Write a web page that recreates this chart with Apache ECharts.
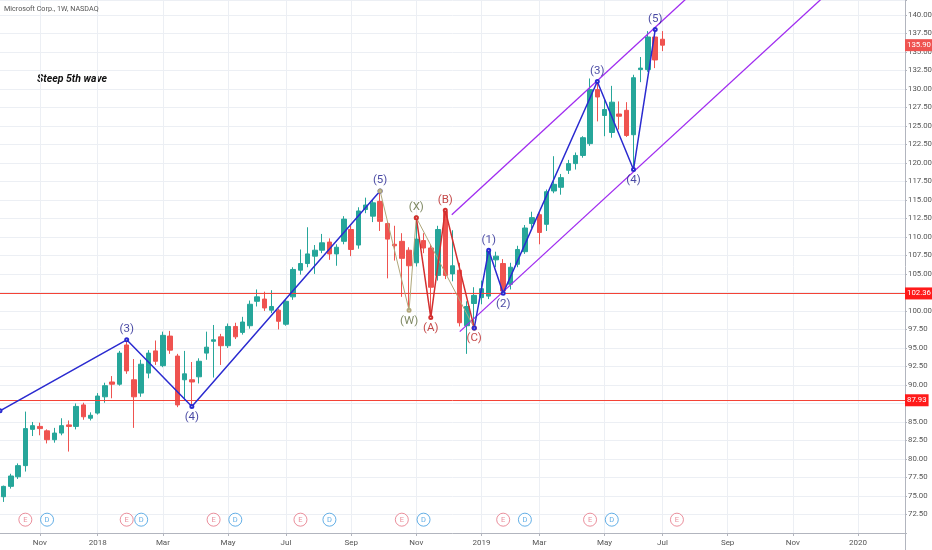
<!DOCTYPE html>
<html>
<head>
<meta charset="utf-8">
<script src="https://cdn.jsdelivr.net/npm/echarts@6/dist/echarts.min.js"></script>
<style>
  html, body { margin: 0; padding: 0; background: #fff; }
  #chart { width: 932px; height: 550px; }
</style>
</head>
<body>
<div id="chart"></div>
<script>
// MSFT weekly candles (week of 2017-10-02 onward)
var weekOpen = [74.9, 76.3, 77.6, 79.1, 84.0, 84.4, 83.8, 82.6, 83.5, 84.6,
    84.4, 87.3, 85.5, 86.2, 88.4, 90.4, 90.1, 95.4, 90.7, 88.9,
    91.6, 94.6, 92.6, 96.6, 93.9, 90.7, 90.7, 91.1, 94.3, 95.9,
    96.5, 95.3, 97.9, 97.1, 98.0, 101.3, 101.6, 100.1, 100.1, 98.2,
    101.9, 105.5, 106.4, 107.4, 108.2, 109.3, 107.7, 109.4, 111.0, 108.9,
    113.7, 112.8, 114.8, 111.8, 109.0, 109.4, 108.2, 106.5, 109.5, 108.5,
    104.8, 113.4, 105.0, 105.5, 98.0, 101.0, 101.8, 102.0, 106.9, 106.4,
    103.6, 106.3, 108.0, 111.8, 113.0, 111.7, 116.2, 116.7, 119.0, 119.9,
    121.0, 122.6, 129.9, 126.4, 124.1, 126.6, 127.1, 123.8, 132.6, 132.6,
    137.0, 136.7];
var weekClose = [76.3, 77.7, 79.1, 84.1, 84.5, 84.1, 82.6, 83.5, 84.5, 84.4,
    87.1, 85.7, 85.9, 88.5, 89.9, 90.1, 94.3, 91.9, 88.4, 92.8,
    94.3, 93.2, 96.7, 94.7, 87.3, 91.5, 90.4, 93.2, 95.1, 96.1,
    95.3, 97.9, 96.5, 98.5, 100.9, 101.9, 100.4, 100.6, 98.6, 101.3,
    105.6, 106.4, 107.7, 108.2, 109.2, 107.7, 108.6, 112.4, 108.3, 113.5,
    114.3, 114.6, 112.1, 109.7, 108.8, 107.1, 106.1, 109.7, 108.5, 103.2,
    111.0, 104.8, 106.1, 98.4, 100.6, 102.1, 103.0, 108.1, 107.4, 102.7,
    105.9, 108.3, 111.2, 112.6, 110.6, 116.1, 117.1, 118.0, 119.9, 121.0,
    123.4, 129.9, 128.9, 127.2, 128.2, 126.3, 123.7, 131.5, 132.8, 137.0,
    133.9, 135.9];
var weekLow = [74.2, 76.0, 77.3, 78.3, 83.1, 83.2, 82.1, 82.2, 83.2, 81.0,
    84.0, 85.3, 85.2, 86.0, 87.6, 88.2, 89.9, 91.5, 84.2, 88.4,
    90.9, 92.7, 92.4, 94.2, 87.0, 88.0, 87.1, 90.2, 93.4, 91.0,
    92.7, 95.0, 96.2, 96.8, 97.6, 100.6, 100.0, 99.7, 97.5, 98.0,
    101.5, 104.9, 105.9, 105.0, 107.8, 106.9, 106.1, 109.0, 107.4, 108.4,
    113.2, 112.0, 110.8, 104.4, 106.8, 101.9, 100.2, 106.0, 107.8, 99.1,
    104.1, 104.3, 104.0, 97.9, 94.2, 97.7, 100.9, 101.6, 105.9, 102.4,
    102.9, 105.9, 107.7, 111.2, 109.0, 110.8, 115.9, 115.7, 118.5, 119.1,
    120.7, 122.3, 125.6, 123.6, 123.4, 124.5, 123.5, 119.1, 130.9, 132.3,
    132.8, 135.1];
var weekHigh = [76.4, 78.0, 79.4, 86.4, 85.0, 84.9, 84.0, 84.2, 85.5, 85.2,
    87.5, 87.6, 86.3, 88.9, 90.3, 91.2, 94.6, 96.1, 93.5, 93.4,
    94.7, 96.0, 97.2, 97.3, 94.2, 94.6, 93.1, 93.6, 97.2, 98.1,
    96.9, 98.3, 98.4, 99.2, 101.4, 102.9, 102.6, 102.8, 100.3, 101.6,
    105.9, 108.3, 111.3, 108.9, 110.4, 109.8, 109.0, 112.8, 111.5, 114.0,
    115.3, 115.0, 116.2, 112.0, 111.5, 110.5, 108.6, 112.6, 110.5, 109.0,
    111.5, 113.6, 110.9, 106.5, 101.3, 103.2, 104.1, 108.2, 108.0, 107.0,
    106.5, 108.8, 111.6, 113.4, 113.3, 116.4, 120.9, 118.5, 120.4, 121.4,
    123.6, 131.4, 131.0, 128.6, 130.4, 128.3, 128.2, 131.9, 134.3, 137.8,
    138.0, 137.8];

// Elliott wave drawings: [week index, price]
var waveBlue1 = [[-0.5, 86.5], [17, 96.1], [26, 87.1], [52, 116.2]];
var waveOlive = [[52, 116.2], [56, 100.1], [57, 112.6], [65, 97.7]];
var waveRed = [[57, 112.6], [59, 99.1], [61, 113.6], [65, 97.7]];
var waveBlue2 = [[65, 97.7], [67, 108.2], [69, 102.4], [82, 131.0], [87, 119.1], [90, 138.0]];
var channelTop = [[61.9, 113.0], [95.2, 143.0]];
var channelBottom = [[63.0, 97.2], [113.9, 143.0]];

// wave labels: [week index, price, text, above?, colour]
var waveLabels = [
    [17, 96.1, '(3)', true, '#1a1a8c'],
    [26, 87.1, '(4)', false, '#1a1a8c'],
    [52, 116.2, '(5)', true, '#1a1a8c'],
    [56, 100.1, '(W)', false, '#5f6b3c'],
    [57, 112.6, '(X)', true, '#5f6b3c'],
    [59, 99.1, '(A)', false, '#b71c1c'],
    [61, 113.6, '(B)', true, '#b71c1c'],
    [65, 97.7, '(C)', false, '#b71c1c'],
    [67, 108.2, '(1)', true, '#1a1a8c'],
    [69, 102.4, '(2)', false, '#1a1a8c'],
    [82, 131.0, '(3)', true, '#1a1a8c'],
    [87, 119.1, '(4)', false, '#1a1a8c'],
    [90, 138.0, '(5)', true, '#1a1a8c']
];

var levelLines = [102.36, 87.93];
var lastPrice = 135.90;

// earnings / dividend marks (week index)
var earningsWeeks = [3, 17, 29, 41, 55, 69, 81, 93];
var dividendWeeks = [6, 19, 32, 45, 58, 72, 84];

var monthNames = ['Jan', 'Feb', 'Mar', 'Apr', 'May', 'Jun', 'Jul', 'Aug', 'Sep', 'Oct', 'Nov', 'Dec'];
var WEEKS = 125;
var weekDates = [];
for (var i = 0; i < WEEKS; i++) {
    weekDates.push(new Date(Date.UTC(2017, 9, 2) + i * 7 * 86400000));
}
var categories = weekDates.map(function (d) { return d.toISOString().slice(0, 10); });

function isLabelWeek(idx) {
    if (idx === 0) return false;
    var m = weekDates[idx].getUTCMonth();
    return m !== weekDates[idx - 1].getUTCMonth() && m % 2 === 0;
}

var FONT = "Roboto, 'Liberation Sans', sans-serif";

var candles = weekOpen.map(function (o, i) {
    return [o, weekClose[i], weekLow[i], weekHigh[i]];
});

function waveLine(data, color, width) {
    return {
        type: 'line',
        xAxisIndex: 1,
        data: data,
        symbol: 'emptyCircle',
        symbolSize: 3,
        showSymbol: true,
        lineStyle: { color: color, width: width },
        itemStyle: { color: color },
        silent: true,
        z: 5
    };
}

function markerSeries(weeks, letter, color) {
    return {
        type: 'scatter',
        xAxisIndex: 1,
        data: weeks.map(function (w) { return [w, 71.8]; }),
        symbol: 'circle',
        symbolSize: 13,
        itemStyle: { color: '#fff', borderColor: color, borderWidth: 1 },
        label: { show: true, position: 'inside', formatter: letter, color: color, fontSize: 7.5, fontFamily: FONT },
        silent: true,
        z: 6
    };
}

var chart = echarts.init(document.getElementById('chart'));
var option = {
    animation: false,
    backgroundColor: '#fff',
    title: {
        text: 'Microsoft Corp., 1W, NASDAQ',
        left: 4, top: 6, padding: 0,
        textStyle: { fontSize: 7.2, fontWeight: 'normal', color: '#555', fontFamily: FONT }
    },
    graphic: [{
        type: 'text', left: 37, top: 74,
        style: { text: 'Steep 5th wave', font: 'italic bold 10.5px ' + FONT, fill: '#111' }
    }, {
        // axis rule continues into the date strip
        type: 'line', silent: true,
        shape: { x1: 905.5, y1: 533, x2: 905.5, y2: 550 },
        style: { stroke: '#b2b5be', lineWidth: 1 }
    }],
    grid: { left: 0, right: 27, top: 0, bottom: 17, containLabel: false, outerBoundsMode: 'none' },
    xAxis: [{
        type: 'category',
        data: categories,
        boundaryGap: true,
        axisLine: { onZero: false, lineStyle: { color: '#b2b5be' } },
        axisTick: { show: true, alignWithLabel: true, interval: isLabelWeek, length: 3, lineStyle: { color: '#b2b5be' } },
        axisLabel: {
            interval: isLabelWeek,
            fontSize: 8, color: '#555', fontFamily: FONT, margin: 6,
            formatter: function (v, idx) {
                var d = weekDates[idx];
                return d.getUTCMonth() === 0 ? String(d.getUTCFullYear()) : monthNames[d.getUTCMonth()];
            }
        },
        splitLine: { show: true, interval: isLabelWeek, alignWithLabel: true, lineStyle: { color: '#eceff4' } }
    }, {
        type: 'value',
        min: -0.5, max: WEEKS - 0.5,
        show: false
    }],
    yAxis: {
        type: 'value',
        position: 'right',
        min: 70, max: 142, interval: 2.5,
        axisLine: { show: true, onZero: false, lineStyle: { color: '#b2b5be' } },
        axisTick: { show: true, length: 2, lineStyle: { color: '#b2b5be' } },
        axisLabel: {
            fontSize: 7.8, color: '#555', fontFamily: FONT, margin: 3,
            formatter: function (v) { return (v < 72 || v > 141) ? '' : v.toFixed(2); }
        },
        splitLine: { lineStyle: { color: '#eceff4' } }
    },
    series: [{
        type: 'candlestick',
        data: candles,
        barWidth: 5,
        itemStyle: {
            color: '#26a69a', color0: '#ef5350',
            borderColor: '#26a69a', borderColor0: '#ef5350'
        },
        markLine: {
            silent: true,
            symbol: ['none', 'none'],
            data: levelLines.map(function (v) {
                return {
                    yAxis: v,
                    lineStyle: { color: '#f44336', width: 1, type: 'solid' },
                    label: { backgroundColor: '#ff1a1a' }
                };
            }).concat([{
                yAxis: lastPrice,
                lineStyle: { color: 'rgba(0,0,0,0)', width: 1, type: 'solid' },
                label: { backgroundColor: '#ef5350' }
            }]),
            label: {
                show: true, position: 'end', distance: 0,
                color: '#fff', fontSize: 7.8, fontFamily: FONT,
                padding: [2, 2, 2, 2],
                formatter: function (p) { return p.value.toFixed(2); }
            }
        }
    },
    waveLine(waveBlue1, '#2b2bd0', 1.5),
    waveLine(waveOlive, '#b0a77a', 1),
    waveLine(waveRed, '#d32f2f', 1.5),
    waveLine(waveBlue2, '#2b2bd0', 1.5),
    {
        type: 'line', xAxisIndex: 1, data: channelTop, showSymbol: false,
        lineStyle: { color: '#a02cf0', width: 1.3 }, silent: true, z: 4
    },
    {
        type: 'line', xAxisIndex: 1, data: channelBottom, showSymbol: false,
        lineStyle: { color: '#a02cf0', width: 1.3 }, silent: true, z: 4
    },
    {
        type: 'scatter',
        xAxisIndex: 1,
        symbol: 'circle',
        symbolSize: 1,
        itemStyle: { color: 'rgba(0,0,0,0)' },
        silent: true,
        z: 7,
        data: waveLabels.map(function (w) {
            return {
                value: [w[0], w[1]],
                label: {
                    show: true,
                    formatter: w[2],
                    position: w[3] ? 'top' : 'bottom',
                    distance: 4,
                    color: w[4],
                    fontSize: 11.5,
                    fontFamily: FONT
                }
            };
        })
    },
    markerSeries(earningsWeeks, 'E', '#e57383'),
    markerSeries(dividendWeeks, 'D', '#3d9be0')
    ]
};
chart.setOption(option);
</script>
</body>
</html>
